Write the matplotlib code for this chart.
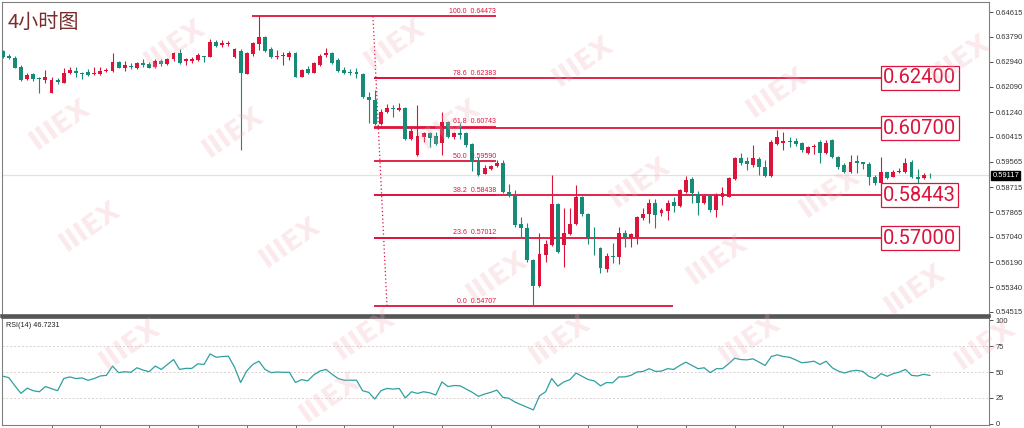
import matplotlib
matplotlib.use("Agg")
import matplotlib.pyplot as plt
import numpy as np

# 4h candles (open, high, low, close)
opens = [0.63302, 0.63144, 0.63076, 0.62773, 0.62349, 0.62517, 0.62403, 0.62326, 0.61898, 0.62326,
         0.62235, 0.62571, 0.62639, 0.62571, 0.62605, 0.62517, 0.62528, 0.62628, 0.62628, 0.62942,
         0.62740, 0.62797, 0.62719, 0.62888, 0.62854, 0.62773, 0.62975, 0.62854, 0.63022, 0.63245,
         0.62965, 0.62975, 0.62999, 0.63144, 0.63110, 0.63595, 0.63504, 0.63538, 0.63110, 0.63302,
         0.62528, 0.63191, 0.63538, 0.63783, 0.63359, 0.63110, 0.63134, 0.63110, 0.63224, 0.62437,
         0.62686, 0.62571, 0.62830, 0.63167, 0.63224, 0.62999, 0.62662, 0.62605, 0.62605, 0.62528,
         0.61763, 0.61652, 0.60844, 0.61258, 0.61393, 0.61315, 0.61373, 0.60329, 0.59800, 0.60396,
         0.60531, 0.60440, 0.60194, 0.60922, 0.60396, 0.60531, 0.60531, 0.60171, 0.59632, 0.59160,
         0.59319, 0.59430, 0.59541, 0.58565, 0.58420, 0.57467, 0.57332, 0.56265, 0.55389, 0.56433,
         0.56770, 0.58150, 0.56770, 0.57140, 0.57477, 0.58376, 0.57803, 0.57050, 0.56659, 0.55962,
         0.56410, 0.56376, 0.57164, 0.56995, 0.57029, 0.57669, 0.57803, 0.58174, 0.57837, 0.57925,
         0.58228, 0.58083, 0.58565, 0.58982, 0.58487, 0.58174, 0.58420, 0.57948, 0.58376, 0.58396,
         0.58982, 0.59689, 0.59608, 0.59463, 0.59655, 0.59406, 0.59093, 0.60171, 0.60215, 0.60282,
         0.60272, 0.60194, 0.59857, 0.60059, 0.60248, 0.59857, 0.60305, 0.59723, 0.59463, 0.59238,
         0.59608, 0.59555, 0.59497, 0.59070, 0.58868, 0.59218, 0.59070, 0.59218, 0.59238, 0.59575,
         0.59070, 0.59016, 0.59140]
highs = [0.63336, 0.63191, 0.63144, 0.62830, 0.62571, 0.62551, 0.62437, 0.62662, 0.62437, 0.62403,
         0.62740, 0.62753, 0.62753, 0.62605, 0.62686, 0.62773, 0.62753, 0.62740, 0.63224, 0.62975,
         0.62965, 0.62908, 0.62921, 0.63022, 0.62921, 0.63022, 0.63022, 0.63056, 0.63258, 0.63359,
         0.63076, 0.63110, 0.63224, 0.63144, 0.63696, 0.63672, 0.63672, 0.63649, 0.63393, 0.63359,
         0.63278, 0.63615, 0.64473, 0.63807, 0.63447, 0.63336, 0.63278, 0.63312, 0.63278, 0.62686,
         0.62797, 0.62942, 0.63191, 0.63413, 0.63278, 0.63056, 0.62753, 0.62686, 0.62719, 0.62571,
         0.61932, 0.61989, 0.61339, 0.61507, 0.61484, 0.61541, 0.61427, 0.60699, 0.61484, 0.60585,
         0.60585, 0.60585, 0.61258, 0.60945, 0.60585, 0.60868, 0.60585, 0.60194, 0.59743, 0.59463,
         0.59463, 0.59632, 0.59632, 0.58824, 0.58622, 0.57703, 0.57500, 0.56288, 0.57184, 0.56938,
         0.59127, 0.58194, 0.58005, 0.58005, 0.58790, 0.58420, 0.57837, 0.57386, 0.56713, 0.56490,
         0.56827, 0.57386, 0.57275, 0.57184, 0.57746, 0.58005, 0.58309, 0.58309, 0.58005, 0.58285,
         0.58376, 0.58645, 0.59093, 0.59070, 0.58588, 0.58453, 0.58453, 0.58511, 0.58733, 0.59070,
         0.59743, 0.59857, 0.59723, 0.60137, 0.59723, 0.59632, 0.60305, 0.60642, 0.60585, 0.60417,
         0.60363, 0.60248, 0.60103, 0.60171, 0.60305, 0.60305, 0.60329, 0.59766, 0.59521, 0.59800,
         0.59800, 0.59575, 0.59575, 0.59127, 0.59743, 0.59238, 0.59295, 0.59352, 0.59689, 0.59632,
         0.59319, 0.59184, 0.59184]
lows = [0.63056, 0.63033, 0.62719, 0.62292, 0.62326, 0.62292, 0.61878, 0.62214, 0.61878, 0.62181,
        0.62214, 0.62517, 0.62437, 0.62359, 0.62460, 0.62494, 0.62494, 0.62585, 0.62605, 0.62719,
        0.62639, 0.62686, 0.62686, 0.62773, 0.62719, 0.62740, 0.62807, 0.62830, 0.62975, 0.62864,
        0.62830, 0.62888, 0.62965, 0.62942, 0.63090, 0.63447, 0.63447, 0.63480, 0.63076, 0.59969,
        0.62528, 0.63134, 0.63336, 0.63278, 0.63056, 0.63022, 0.62830, 0.62999, 0.62416, 0.62416,
        0.62528, 0.62551, 0.62797, 0.63110, 0.62864, 0.62605, 0.62528, 0.62494, 0.62383, 0.61709,
        0.60868, 0.60810, 0.60810, 0.61224, 0.61070, 0.61292, 0.60305, 0.60305, 0.59777, 0.60248,
        0.60080, 0.60137, 0.59800, 0.60363, 0.60329, 0.60329, 0.60080, 0.59272, 0.59103, 0.59150,
        0.59295, 0.59406, 0.58511, 0.58396, 0.57386, 0.56995, 0.56208, 0.54707, 0.55366, 0.56208,
        0.56736, 0.56511, 0.56039, 0.57107, 0.57443, 0.57746, 0.56804, 0.56433, 0.55837, 0.55871,
        0.56174, 0.56130, 0.56693, 0.56693, 0.56804, 0.57612, 0.57500, 0.57332, 0.57746, 0.57612,
        0.57891, 0.58059, 0.58511, 0.58174, 0.57780, 0.58150, 0.57891, 0.57723, 0.58117, 0.58376,
        0.58958, 0.59463, 0.59295, 0.59406, 0.59127, 0.59070, 0.59070, 0.60137, 0.59969, 0.60080,
        0.60103, 0.59911, 0.59824, 0.59834, 0.59521, 0.59834, 0.59689, 0.59319, 0.59184, 0.59184,
        0.59204, 0.59319, 0.58790, 0.58790, 0.58847, 0.58982, 0.59049, 0.59184, 0.59184, 0.59016,
        0.58824, 0.58982, 0.59016]
closes = [0.63100, 0.63056, 0.62740, 0.62326, 0.62494, 0.62349, 0.62349, 0.62437, 0.62326, 0.62268,
          0.62551, 0.62662, 0.62551, 0.62537, 0.62494, 0.62551, 0.62639, 0.62662, 0.62942, 0.62740,
          0.62830, 0.62753, 0.62888, 0.62830, 0.62740, 0.62975, 0.62854, 0.63022, 0.63224, 0.62908,
          0.63033, 0.63033, 0.63167, 0.63110, 0.63595, 0.63480, 0.63561, 0.63561, 0.63359, 0.62551,
          0.63224, 0.63561, 0.63763, 0.63312, 0.63090, 0.63144, 0.63167, 0.63224, 0.62437, 0.62662,
          0.62571, 0.62888, 0.63134, 0.63245, 0.62888, 0.62628, 0.62551, 0.62551, 0.62528, 0.61743,
          0.61652, 0.60844, 0.61258, 0.61393, 0.61339, 0.61393, 0.60329, 0.60618, 0.60440, 0.60531,
          0.60383, 0.60171, 0.60901, 0.60396, 0.60531, 0.60474, 0.60137, 0.59575, 0.59127, 0.59352,
          0.59430, 0.59541, 0.58544, 0.58453, 0.57443, 0.57332, 0.56265, 0.55389, 0.56467, 0.56793,
          0.58150, 0.56544, 0.57164, 0.57477, 0.58376, 0.57803, 0.57016, 0.56995, 0.55985, 0.56410,
          0.56356, 0.57164, 0.56995, 0.57140, 0.57703, 0.57803, 0.58174, 0.57780, 0.57948, 0.58194,
          0.58083, 0.58622, 0.58958, 0.58511, 0.58194, 0.58420, 0.57948, 0.58453, 0.58511, 0.59016,
          0.59689, 0.59541, 0.59497, 0.59689, 0.59406, 0.59093, 0.60248, 0.60396, 0.60282, 0.60238,
          0.60171, 0.59969, 0.60059, 0.60103, 0.59878, 0.60215, 0.59723, 0.59406, 0.59238, 0.59575,
          0.59541, 0.59487, 0.59049, 0.58868, 0.59238, 0.59016, 0.59238, 0.59272, 0.59541, 0.59049,
          0.58992, 0.59127, 0.59117]

rsi = [46, 44.6, 36.7, 29.4, 34.5, 32, 31, 36, 34, 32, 43.7, 45.3, 43.7, 44.3, 42, 43.7, 46.2, 46.8,
       55.7, 49.4, 50.3, 49.7, 54.1, 51.9, 50.3, 55.7, 52.5, 57.3, 62, 52.5, 53.5, 53.5, 57.9, 57.3,
       67.4, 64.2, 64.9, 65.2, 54.7, 39.9, 51, 57.3, 60.4, 52.5, 49.4, 50, 49.7, 49.7, 39.9, 42.7,
       41.5, 47.2, 50.9, 52.5, 47.8, 43.7, 42.1, 42.1, 42.1, 32, 30.4, 24, 32, 34.2, 33.5, 34.2, 25,
       31, 29.4, 31, 30, 27.8, 40.5, 36, 37, 36.7, 33.5, 30.4, 26.6, 28.8, 30.4, 32.6, 25.6, 24.7,
       21, 18.5, 16, 13.5, 27, 31, 43.7, 36.4, 40.5, 42.7, 49, 45.9, 42.7, 41.5, 36.7, 39.9, 39.6,
       45.3, 45.3, 46.8, 50, 50.6, 53.2, 50.6, 50.9, 53.2, 52.5, 56.3, 59.5, 56.3, 53.2, 54.1, 49.4,
       53.2, 53.2, 57.9, 63.3, 62, 61.7, 62.7, 59.5, 56.3, 64.9, 66.5, 64.9, 64.2, 61.7, 58.9, 59.5,
       60.4, 57.3, 60.4, 54.1, 50.9, 49, 50.9, 51.6, 50.6, 45.9, 43.7, 48.4, 45.9, 48.4, 50, 52.5,
       46.8, 46.2, 47.8, 46.7231]

fib_pcts = ["100.0", "78.6", "61.8", "50.0", "38.2", "23.6", "0.0"]
fib_prices = [0.64473, 0.62383, 0.60743, 0.59590, 0.58438, 0.57012, 0.54707]
key_levels = [0.62400, 0.60700, 0.58443, 0.57000]
price_ticks = [0.64615, 0.63790, 0.62940, 0.62090, 0.61240, 0.60415, 0.59565,
               0.58715, 0.57865, 0.57040, 0.56190, 0.55340, 0.54515]
rsi_ticks = [0, 25, 50, 75, 100]
last_price = 0.59117

UP = "#dc143c"
DOWN = "#178a78"
FIB = "#dc143c"

W, H = 1024, 428
fig = plt.figure(figsize=(W / 100, H / 100), dpi=100)


def rect(l, t, r, b):
    return [l / W, 1 - b / H, (r - l) / W, (b - t) / H]


ax = fig.add_axes(rect(2, 2, 989, 316))
ax2 = fig.add_axes(rect(2, 318, 989, 425))

n = len(opens)
x = np.arange(n)
o = np.array(opens); c = np.array(closes)
hi = np.array(highs); lo = np.array(lows)
cols = [UP if c[i] >= o[i] else DOWN for i in range(n)]

# candles
ax.vlines(x, lo, hi, colors=cols, lw=0.8, zorder=3)
body = np.maximum(np.abs(c - o), 0.00022)
ax.bar(x, body, bottom=np.minimum(o, c), width=0.64, color=cols, lw=0, zorder=4)

ax.set_xlim(-0.12, 161.7)
ax.set_ylim(0.54379, 0.64952)

# last price line
ax.axhline(last_price, color="#e2e2e2", lw=0.9, zorder=1)

# fibonacci levels
for pct, p in zip(fib_pcts, fib_prices):
    x0 = 40.9 if pct == "100.0" else 60.9
    x1 = 109.9 if pct == "0.0" else 80.9
    ax.hlines(p, x0, x1, color=FIB, lw=1.3, zorder=2)
    ax.annotate(pct + "  " + "%.5f" % p, (80.9, p), xytext=(0, 1.2), textcoords="offset points",
                ha="right", va="bottom", fontsize=5, color=FIB, family="Liberation Sans", zorder=5)
ax.plot([60.7, 63.0], [fib_prices[0], fib_prices[-1]], color=FIB, lw=0.9, ls=(0, (1, 2)), zorder=2)

# key levels with boxed labels
for lv in key_levels:
    ax.hlines(lv, 60.9, 144.0, color=FIB, lw=1.3, zorder=2)
    ax.text(144.35, lv, "%.5f" % lv, ha="left", va="center", fontsize=14.5, family="Roboto",
            color=FIB, zorder=6,
            bbox=dict(boxstyle="square,pad=0.12", fc="white", ec=FIB, lw=0.9))

# price axis
ax.yaxis.tick_right()
ax.set_yticks(price_ticks)
ax.set_yticklabels(["%.5f" % v for v in price_ticks])
ax.tick_params(axis="y", labelsize=5.4, length=3, width=0.6, pad=1.5, colors="#333333")
ax.tick_params(axis="x", bottom=False, labelbottom=False)
for lab in ax.get_yticklabels():
    lab.set_family("Liberation Sans")
ax.text(1.0035, last_price, "%.5f" % last_price, transform=ax.get_yaxis_transform(),
        ha="left", va="center", fontsize=5.4, color="white", family="Liberation Sans",
        bbox=dict(boxstyle="square,pad=0.15", fc="black", ec="black"), clip_on=False)

for s in ["left", "top", "right"]:
    ax.spines[s].set_color("#808080")
    ax.spines[s].set_linewidth(0.8)
ax.spines["bottom"].set_color("#555555")
ax.spines["bottom"].set_linewidth(2.6)

# RSI panel
for lv in [25, 50, 75]:
    ax2.axhline(lv, color="#d9cfd0", lw=0.7, ls=(0, (2, 2)), zorder=1)
ax2.plot(x, rsi, color="#2f9f9f", lw=0.9, zorder=3)
ax2.set_xlim(-0.12, 161.7)
ax2.set_ylim(-1, 102)
ax2.yaxis.tick_right()
ax2.set_yticks(rsi_ticks)
ax2.set_yticklabels([str(v) for v in rsi_ticks])
ax2.tick_params(axis="y", labelsize=5.4, length=3, width=0.6, pad=1.5, colors="#333333")
ax2.set_xticks(np.arange(8, n, 8))
ax2.tick_params(axis="x", length=3, width=0.6, colors="#555555", labelbottom=False)
for lab in ax2.get_yticklabels():
    lab.set_family("Liberation Sans")
for s in ["left", "right", "bottom"]:
    ax2.spines[s].set_color("#808080")
    ax2.spines[s].set_linewidth(0.8)
ax2.spines["top"].set_color("#555555")
ax2.spines["top"].set_linewidth(1.2)
ax2.text(0.004, 0.96, "RSI(14) 46.7231", transform=ax2.transAxes, va="top", ha="left",
         fontsize=5.2, color="#222222", family="Liberation Sans")

# title
fig.text(8 / W, 1 - 22 / H, "4小时图", fontsize=14.5, color="#7b2d2d", va="center", ha="left",
         family=["Noto Sans CJK SC", "DejaVu Sans"])

# faint watermark logos
marks = [(175, 45), (395, 45), (583, 62), (777, 93), (960, 60), (60, 125), (233, 133),
         (450, 125), (640, 183), (830, 193), (90, 227), (290, 243), (497, 277), (717, 260),
         (915, 290), (130, 345), (365, 335), (560, 340), (750, 340), (985, 345), (330, 398)]
for mx, my in marks:
    fig.text(mx / W, 1 - my / H, "IIIEX", fontsize=19, fontweight="bold", color="#f0a9b4",
             alpha=0.25, rotation=35, ha="center", va="center", zorder=0)

fig.savefig("out.png", dpi=100)
